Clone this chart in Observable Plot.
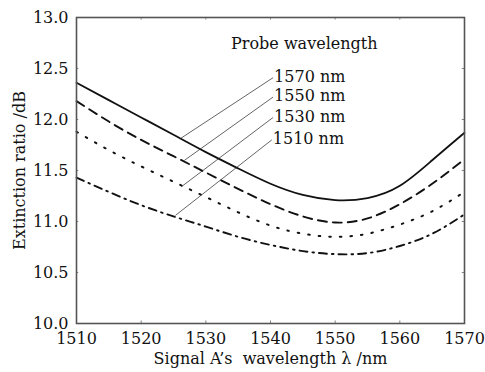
<!DOCTYPE html>
<html>
<head>
<meta charset="utf-8">
<script src="https://cdn.jsdelivr.net/npm/d3@7"></script>
<script src="https://cdn.jsdelivr.net/npm/@observablehq/plot@0.6"></script>
<style>
  html, body { margin: 0; padding: 0; background: #fff; }
</style>
</head>
<body>
<div id="chart"></div>
<script>
// Signal A wavelength (nm)
const wavelengths = [1510, 1515, 1520, 1525, 1530, 1535, 1540, 1545, 1550, 1555, 1560, 1565, 1570];
// Extinction ratio (dB) for each probe wavelength
const probe1570 = [12.36, 12.19, 12.02, 11.85, 11.68, 11.52, 11.37, 11.26, 11.21, 11.23, 11.35, 11.60, 11.87];
const probe1550 = [12.18, 11.98, 11.80, 11.64, 11.48, 11.32, 11.17, 11.05, 10.99, 11.03, 11.17, 11.37, 11.61];
const probe1530 = [11.88, 11.70, 11.54, 11.39, 11.24, 11.09, 10.96, 10.88, 10.85, 10.88, 10.97, 11.10, 11.29];
const probe1510 = [11.43, 11.29, 11.16, 11.05, 10.95, 10.85, 10.77, 10.71, 10.68, 10.69, 10.76, 10.88, 11.07];

const seriesNames = ["1570 nm", "1550 nm", "1530 nm", "1510 nm"];
const seriesValues = [probe1570, probe1550, probe1530, probe1510];

// Annotation leaders (data coordinates): point on curve -> label
const leaderFromX = [1526.0, 1526.7, 1526.2, 1525.3];
const leaderFromY = [11.81, 11.60, 11.34, 11.06];
const labelX = [1540.4, 1540.4, 1540.4, 1540.2];
const labelY = [12.41, 12.22, 12.02, 11.80];
const legendTitle = "Probe wavelength";
const legendTitleX = 1533.9;
const legendTitleY = 12.745;

const xTicks = [1510, 1520, 1530, 1540, 1550, 1560, 1570];
const yTicks = [10.0, 10.5, 11.0, 11.5, 12.0, 12.5, 13.0];

const dashes = [null, "9,6", "1.6,9", "8,5,1.6,5"];
const widths = [1.8, 1.9, 2, 1.9];

const curveMarks = seriesNames.map((name, i) =>
  Plot.line(wavelengths.map((w, j) => ({x: w, y: seriesValues[i][j]})), {
    x: "x", y: "y", curve: "natural",
    stroke: "#111", strokeWidth: widths[i],
    strokeDasharray: dashes[i]
  })
);

const leaders = seriesNames.map((name, i) => ({
  x1: leaderFromX[i], y1: leaderFromY[i], x2: labelX[i], y2: labelY[i], name
}));

const chart = Plot.plot({
  width: 485,
  height: 372,
  marginLeft: 76,
  marginRight: 21,
  marginTop: 17,
  marginBottom: 49,
  style: {fontFamily: "'DejaVu Serif', serif", fontSize: "16px", color: "#111", background: "#fff"},
  x: {domain: [1510, 1570]},
  y: {domain: [10, 13]},
  marks: [
    Plot.axisX({ticks: xTicks, tickSize: 0, tickPadding: 9, tickFormat: d3.format("d"),
      label: "Signal A\u2019s\u00a0 wavelength \u03bb /nm", labelAnchor: "center", labelArrow: "none", labelOffset: 40}),
    Plot.axisY({ticks: yTicks, tickSize: 0, tickPadding: 8, tickFormat: d3.format(".1f"),
      label: "Extinction ratio /dB", labelAnchor: "center", labelArrow: "none", labelOffset: 63}),
    Plot.ruleX(xTicks.slice(1, -1), {x: d => d, y1: 10, y2: 10.025, stroke: "#888", strokeWidth: 1}),
    Plot.ruleX(xTicks.slice(1, -1), {x: d => d, y1: 12.975, y2: 13, stroke: "#888", strokeWidth: 1}),
    Plot.ruleY(yTicks.slice(1, -1), {y: d => d, x1: 1510, x2: 1510.35, stroke: "#888", strokeWidth: 1}),
    Plot.ruleY(yTicks.slice(1, -1), {y: d => d, x1: 1569.65, x2: 1570, stroke: "#888", strokeWidth: 1}),
    ...curveMarks,
    Plot.link(leaders, {x1: "x1", y1: "y1", x2: "x2", y2: "y2", stroke: "#222", strokeWidth: 0.7}),
    Plot.text(leaders, {x: "x2", y: "y2", text: "name", textAnchor: "start", dx: 1, dy: -1, fill: "#111"}),
    Plot.text([legendTitle], {x: legendTitleX, y: legendTitleY, text: d => d, textAnchor: "start", fill: "#111"}),
    Plot.frame({stroke: "#555", strokeWidth: 1.6})
  ]
});
document.getElementById("chart").appendChild(chart);
</script>
</body>
</html>
